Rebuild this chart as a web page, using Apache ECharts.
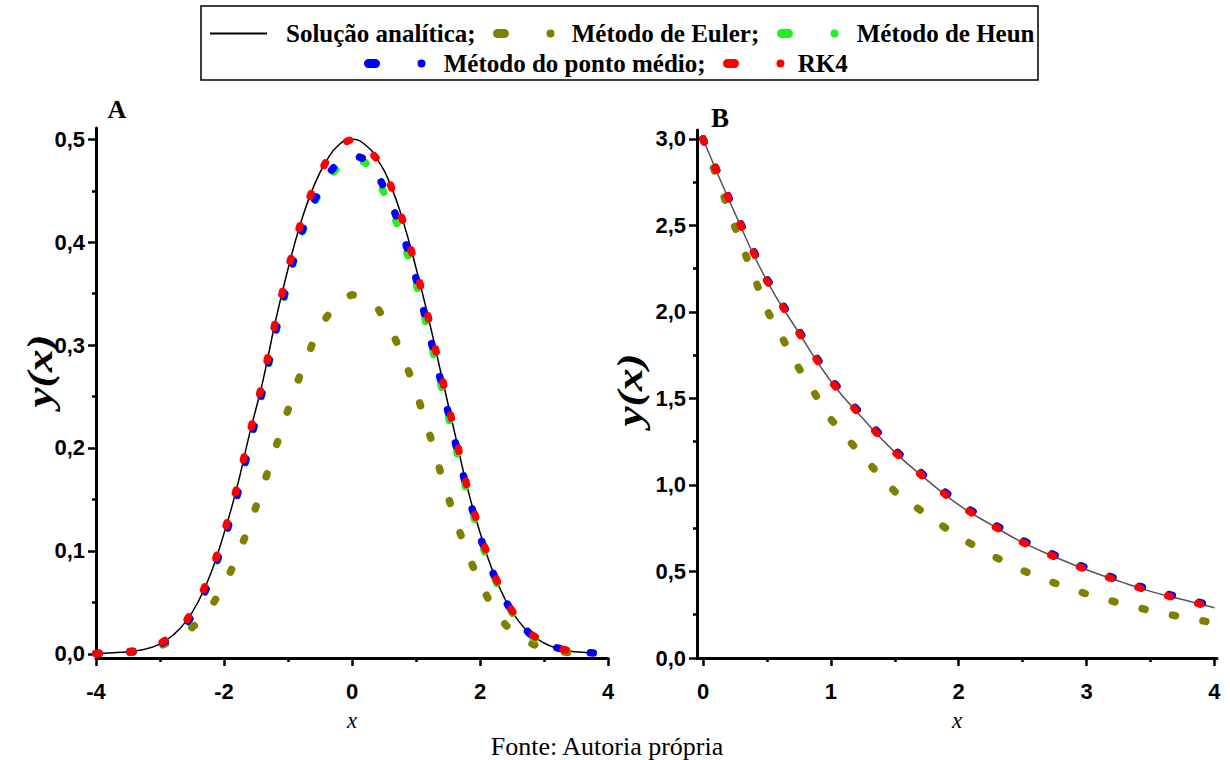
<!DOCTYPE html>
<html>
<head>
<meta charset="utf-8">
<script src="https://cdn.jsdelivr.net/npm/echarts@6/dist/echarts.min.js"></script>
<style>
  html, body { margin: 0; padding: 0; background: #fff; }
  #c { width: 1230px; height: 760px; }
</style>
</head>
<body>
<div id="c"></div>
<script>
// ---- Panel A: y(x) on [-4, 4] ----
const xA = [-4, -3.8, -3.6, -3.4, -3.2, -3, -2.8, -2.6, -2.4, -2.2, -2, -1.8, -1.6, -1.4, -1.2, -1, -0.8, -0.6, -0.4, -0.2,
            0, 0.2, 0.4, 0.6, 0.8, 1, 1.2, 1.4, 1.6, 1.8, 2, 2.2, 2.4, 2.6, 2.8, 3, 3.2, 3.4, 3.6, 3.8];
const exactA = [0.0003, 0.0008, 0.0015, 0.0027, 0.005, 0.0097, 0.018, 0.031, 0.051, 0.079, 0.117, 0.161, 0.214, 0.263, 0.322, 0.374, 0.419, 0.454, 0.479, 0.495,
                0.5, 0.495, 0.48, 0.456, 0.42, 0.375, 0.325, 0.27, 0.216, 0.162, 0.118, 0.08, 0.052, 0.032, 0.019, 0.0105, 0.0055, 0.0028, 0.0014, 0.0007];
const eulerA = [0.0001, 0.0003, 0.0007, 0.0015, 0.0035, 0.0074, 0.013, 0.02, 0.031, 0.046, 0.066, 0.093, 0.125, 0.161, 0.199, 0.237, 0.273, 0.304, 0.327, 0.343,
                0.349, 0.347, 0.336, 0.316, 0.289, 0.255, 0.216, 0.173, 0.133, 0.098, 0.069, 0.045, 0.028, 0.017, 0.01, 0.005, 0.0025, 0.0011, 0.0005, 0.0002];
const heunA = [0.0003, 0.0007, 0.0013, 0.0024, 0.0045, 0.0088, 0.0155, 0.027, 0.046, 0.073, 0.109, 0.152, 0.203, 0.254, 0.31, 0.362, 0.406, 0.437, 0.461, 0.474,
               0.48, 0.478, 0.461, 0.435, 0.402, 0.361, 0.311, 0.259, 0.206, 0.156, 0.112, 0.077, 0.05, 0.03, 0.017, 0.0095, 0.0055, 0.0028, 0.0013, 0.0006];
const midA = [0.0003, 0.0007, 0.0013, 0.0024, 0.0046, 0.009, 0.016, 0.028, 0.047, 0.074, 0.11, 0.153, 0.204, 0.256, 0.312, 0.364, 0.408, 0.439, 0.464, 0.479,
              0.485, 0.481, 0.466, 0.44, 0.407, 0.365, 0.313, 0.262, 0.209, 0.158, 0.114, 0.079, 0.051, 0.031, 0.018, 0.01, 0.0058, 0.003, 0.0014, 0.0006];
const rk4A = [0.0003, 0.0008, 0.0015, 0.0027, 0.005, 0.0097, 0.018, 0.031, 0.051, 0.079, 0.117, 0.161, 0.214, 0.263, 0.322, 0.374, 0.419, 0.454, 0.479, 0.495,
              0.5, 0.495, 0.48, 0.456, 0.42, 0.375, 0.325, 0.27, 0.216, 0.162, 0.118, 0.08, 0.052, 0.032, 0.019, 0.0105, 0.0055, 0.0028, 0.0014, 0.0007];

// ---- Panel B: y(x) on [0, 4] ----
const xB = [0, 0.25, 0.5, 0.75, 1, 1.25, 1.5, 1.75, 2, 2.25, 2.5, 2.75, 3, 3.25, 3.5, 3.75, 4];
const exactB = [3.0, 2.57, 2.18, 1.88, 1.6, 1.385, 1.19, 1.03, 0.885, 0.772, 0.668, 0.585, 0.51, 0.445, 0.385, 0.338, 0.29];
const eulerB = [3.0, 2.49, 2.01, 1.675, 1.38, 1.164, 0.962, 0.827, 0.699, 0.596, 0.506, 0.433, 0.37, 0.319, 0.273, 0.236, 0.203];
const heunB = [3.0, 2.578, 2.188, 1.888, 1.61, 1.395, 1.2, 1.04, 0.895, 0.781, 0.677, 0.593, 0.518, 0.452, 0.392, 0.345, 0.297];
const midB = [3.0, 2.58, 2.19, 1.89, 1.612, 1.397, 1.202, 1.042, 0.897, 0.783, 0.679, 0.595, 0.52, 0.454, 0.394, 0.347, 0.298];
const rk4B = [3.0, 2.57, 2.18, 1.88, 1.6, 1.385, 1.19, 1.03, 0.885, 0.772, 0.668, 0.585, 0.51, 0.445, 0.385, 0.338, 0.29];

// ---- Tick positions ----
const ticksAx = [-4, -2, 0, 2, 4];
const minorAx = [-3, -1, 1, 3];
const ticksAy = [0, 0.1, 0.2, 0.3, 0.4, 0.5];
const minorAy = [0.05, 0.15, 0.25, 0.35, 0.45];
const ticksBx = [0, 1, 2, 3, 4];
const minorBx = [0.5, 1.5, 2.5, 3.5];
const ticksBy = [0, 0.5, 1, 1.5, 2, 2.5, 3];
const minorBy = [0.25, 0.75, 1.25, 1.75, 2.25, 2.75];

const NAMES = {
  exact: 'Solução analítica',
  euler: 'Método de Euler',
  heun: 'Método de Heun',
  mid: 'Método do ponto médio',
  rk4: 'RK4'
};
const COLORS = { exact: '#000000', euler: '#808000', heun: '#22ee22', mid: '#0000ff', rk4: '#ff0000' };

const pairs = (xs, ys) => xs.map((x, i) => [x, ys[i]]);
const comma1 = v => v.toFixed(1).replace('.', ',');
const plain = v => String(v);

const TICK_FONT = { fontFamily: 'Liberation Sans, Arial, sans-serif', fontWeight: 'bold', fontSize: 22, color: '#000' };
const SERIF = 'Liberation Serif, Times New Roman, serif';

function mainX(grid, min, max, ticks, fmt) {
  return {
    gridIndex: grid, type: 'value', min, max, position: 'bottom',
    axisLine: { show: true, onZero: false, lineStyle: { color: '#000', width: 3 } },
    axisTick: { show: true, length: 8, lineStyle: { color: '#000', width: 2.5 }, customValues: ticks },
    axisLabel: Object.assign({ show: true, margin: 22, customValues: ticks, formatter: fmt }, TICK_FONT),
    splitLine: { show: false },
    name: 'x', nameLocation: 'middle', nameGap: 51,
    nameTextStyle: { fontFamily: SERIF, fontStyle: 'italic', fontSize: 23, color: '#000' }
  };
}
function minorX(grid, min, max, ticks) {
  return {
    gridIndex: grid, type: 'value', min, max, position: 'bottom',
    axisLine: { show: false, onZero: false },
    axisTick: { show: true, length: 4, lineStyle: { color: '#000', width: 2.5 }, customValues: ticks },
    axisLabel: { show: false }, splitLine: { show: false }
  };
}
function mainY(grid, min, max, ticks, fmt) {
  return {
    gridIndex: grid, type: 'value', min, max, position: 'left',
    axisLine: { show: true, onZero: false, lineStyle: { color: '#000', width: 3 } },
    axisTick: { show: true, length: 8, lineStyle: { color: '#000', width: 2.5 }, customValues: ticks },
    axisLabel: Object.assign({ show: true, margin: 11, customValues: ticks, formatter: fmt }, TICK_FONT),
    splitLine: { show: false }
  };
}
function minorY(grid, min, max, ticks) {
  return {
    gridIndex: grid, type: 'value', min, max, position: 'left',
    axisLine: { show: false, onZero: false },
    axisTick: { show: true, length: 4, lineStyle: { color: '#000', width: 2.5 }, customValues: ticks },
    axisLabel: { show: false }, splitLine: { show: false }
  };
}

function curve(key, xi, yi, xs, ys, color, width) {
  return {
    type: 'line', name: NAMES[key], xAxisIndex: xi, yAxisIndex: yi,
    data: pairs(xs, ys), smooth: true, showSymbol: false, symbol: 'none', z: 1,
    lineStyle: { color, width }, itemStyle: { color: COLORS[key] }, silent: true
  };
}
function dotted(key, xi, yi, xs, ys, z, period) {
  return {
    type: 'line', name: NAMES[key], xAxisIndex: xi, yAxisIndex: yi,
    data: pairs(xs, ys), showSymbol: false, symbol: 'none', z,
    lineStyle: { color: COLORS[key], width: 7.5, type: [3, period - 3], cap: 'round' },
    itemStyle: { color: COLORS[key] }, silent: true
  };
}

const DOTS_ICON = 'path://M4.5,0H11.5A4.5,4.5 0 0 1 11.5,9H4.5A4.5,4.5 0 0 1 4.5,0ZM57.5,0.5A4,4 0 1 1 57.5,8.5A4,4 0 1 1 57.5,0.5Z';
const LINE_ICON = 'path://M0,0H57V2H0Z';

function legendItem(key, label, left, top, pad, icon, w, h) {
  return {
    data: [NAMES[key]], left, top, padding: 0, orient: 'horizontal',
    itemWidth: w, itemHeight: h, icon, selectedMode: false,
    itemStyle: { borderWidth: 0 },
    formatter: label,
    textStyle: { fontFamily: SERIF, fontWeight: 'bold', fontSize: 25, color: '#000', padding: [0, 0, 0, pad] }
  };
}

// Vertical axis title, stretched along its reading direction
function yTitle(cx, cy) {
  return {
    type: 'text', x: cx, y: cy, rotation: Math.PI / 2, scaleX: 1.3, scaleY: 1,
    style: { text: 'y(x)', font: 'italic bold 35px ' + SERIF, fill: '#000', align: 'center', verticalAlign: 'middle' },
    silent: true
  };
}

const chart = echarts.init(document.getElementById('c'), null, { renderer: 'svg', width: 1230, height: 760 });

chart.setOption({
  animation: false,
  backgroundColor: '#fff',
  grid: [
    { left: 96, top: 128, width: 512, height: 530 },
    { left: 697, top: 130, width: 520, height: 528 }
  ],
  xAxis: [
    mainX(0, -4, 4, ticksAx, plain),
    minorX(0, -4, 4, minorAx),
    mainX(1, -0.047, 4.02, ticksBx, plain),
    minorX(1, -0.047, 4.02, minorBx)
  ],
  yAxis: [
    mainY(0, -0.0041, 0.511, ticksAy, comma1),
    minorY(0, -0.0041, 0.511, minorAy),
    mainY(1, 0, 3.052, ticksBy, comma1),
    minorY(1, 0, 3.052, minorBy)
  ],
  legend: [
    legendItem('exact', '{name};', 210, 21, 14, LINE_ICON, 57, 2),
    legendItem('euler', '{name};', 493, 21, 12, DOTS_ICON, 62, 9),
    legendItem('heun', '{name}', 777, 21, 13, DOTS_ICON, 62, 9),
    legendItem('mid', '{name};', 364, 51, 13, DOTS_ICON, 62, 9),
    legendItem('rk4', '{name}', 723, 51, 8, DOTS_ICON, 62, 9)
  ],
  graphic: [
    { type: 'rect', shape: { x: 201, y: 6, width: 837, height: 74 }, style: { fill: 'none', stroke: '#000', lineWidth: 1.5 }, silent: true },
    { type: 'text', x: 117, y: 109, style: { text: 'A', font: 'bold 26px ' + SERIF, fill: '#000', align: 'center', verticalAlign: 'middle' } },
    { type: 'text', x: 720, y: 118, style: { text: 'B', font: 'bold 27px ' + SERIF, fill: '#000', align: 'center', verticalAlign: 'middle' } },
    yTitle(40, 371),
    yTitle(630, 390),
    { type: 'text', x: 607, y: 746, style: { text: 'Fonte: Autoria própria', font: '26px ' + SERIF, fill: '#000', align: 'center', verticalAlign: 'middle' } }
  ],
  series: [
    curve('exact', 0, 0, xA, exactA, '#000000', 1.5),
    dotted('euler', 0, 0, xA, eulerA, 2, 34),
    dotted('heun', 0, 0, xA, heunA, 3, 34),
    dotted('mid', 0, 0, xA, midA, 4, 34),
    dotted('rk4', 0, 0, xA, rk4A, 5, 34),

    curve('exact', 2, 2, xB, exactB, '#555555', 1.5),
    dotted('euler', 2, 2, xB, eulerB, 2, 31),
    dotted('heun', 2, 2, xB, heunB, 3, 31),
    dotted('mid', 2, 2, xB, midB, 4, 31),
    dotted('rk4', 2, 2, xB, rk4B, 5, 31)
  ]
});
</script>
</body>
</html>
